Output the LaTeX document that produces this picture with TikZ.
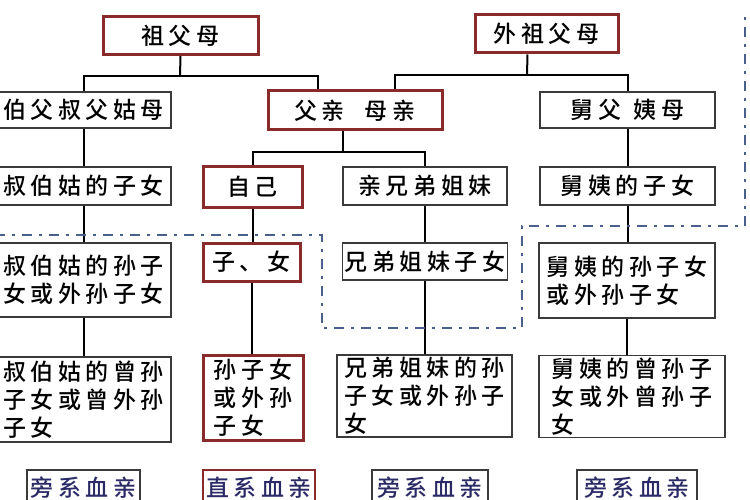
\documentclass[tikz,border=0pt]{standalone}
\usepackage{fontspec}
\newfontfamily\kinfont{Noto Sans CJK SC}[UprightFont=* Medium,LetterSpace=20]
\usepackage{tikz}
\usetikzlibrary{calc, positioning}
\definecolor{lineal}{HTML}{8B2A2A}
\definecolor{bordergray}{HTML}{3A3A3A}
\definecolor{tagblue}{HTML}{2A2A66}
\definecolor{dashblue}{HTML}{4B5F8C}

\begin{document}
\begin{tikzpicture}[x=1pt,y=-1pt,
	kinbox/.style={draw=bordergray,line width=1.5pt,fill=white,align=left,inner sep=2pt,
		font=\kinfont\fontsize{23}{28}\selectfont},
	direct/.style={kinbox,draw=lineal,line width=3pt},
	tagbox/.style={kinbox,text=tagblue,line width=1.2pt},
	link/.style={line width=2pt,black},
	blood/.style={line width=2pt,dashblue,dash pattern=on 10pt off 7pt on 3pt off 7pt}]
	\useasboundingbox[fill=white] (0,0) rectangle (750,500);
	
	% grandparents
	\node[direct,minimum width=155pt,minimum height=38pt] (gp)  at (180.5,35.5) {祖父母};
	\node[direct,minimum width=143pt,minimum height=38pt] (mgp) at (546.5,34)   {外祖父母};
	
	% parents' generation
	\node[kinbox,minimum width=175pt,minimum height=36pt] (uncle)   at (83.5,110)  {伯父叔父姑母};
	\node[direct,minimum width=174pt,minimum height=39pt] (parents) at (355,110.5) {父亲\hspace{20pt}母亲};
	\node[kinbox,minimum width=175pt,minimum height=36pt] (muncle)  at (627.5,110)  {舅父\hspace{12pt}姨母};
	
	% own generation
	\node[kinbox,minimum width=175pt,minimum height=38pt] (ukids) at (83.5,186)  {叔伯姑的子女};
	\node[direct,minimum width=99pt, minimum height=40pt] (self)  at (252.5,187) {自己};
	\node[kinbox,minimum width=164pt,minimum height=38pt] (sibs)  at (425,186)   {亲兄弟姐妹};
	\node[kinbox,minimum width=175pt,minimum height=38pt] (mkids) at (627.5,186) {舅姨的子女};
	
	% children
	\node[kinbox,minimum width=175pt,minimum height=74pt] (ugk)     at (83.5,280)  {叔伯姑的孙子\\女或外孙子女};
	\node[direct,minimum width=97pt, minimum height=38pt] (kids)    at (251.5,262) {子、女};
	\node[kinbox,minimum width=164pt,minimum height=37pt] (sibkids) at (425,261.5) {兄弟姐妹子女};
	\node[kinbox,minimum width=176pt,minimum height=75pt] (mgk)     at (627,280.5) {舅姨的孙子女\\或外孙子女};
	
	% grandchildren
	\node[kinbox,minimum width=175pt,minimum height=85pt] (uggk)  at (83.5,399.5) {叔伯姑的曾孙\\子女或曾外孙\\子女};
	\node[direct,minimum width=100pt,minimum height=85pt] (gkids) at (253,397.5) {孙子女\\或外孙\\子女};
	\node[kinbox,minimum width=175pt,minimum height=82pt] (sibgk) at (424.5,396) {兄弟姐妹的孙\\子女或外孙子\\女};
	\node[kinbox,minimum width=186pt,minimum height=81pt] (mggk)  at (632,396.5) {舅姨的曾孙子\\女或外曾孙子\\女};
	
	% kinds of kin
	\node[tagbox,minimum width=113pt,minimum height=36pt] (side1)  at (83.5,488) {旁系血亲};
	\node[tagbox,draw=lineal,line width=2.5pt,minimum width=112pt,minimum height=36pt] (linetag) at (259,488) {直系血亲};
	\node[tagbox,minimum width=116pt,minimum height=36pt] (side2)  at (430,488) {旁系血亲};
	\node[tagbox,minimum width=120pt,minimum height=36pt] (side3)  at (637,488) {旁系血亲};
	
	% forks
	\coordinate (fork1) at (180,76);
	\coordinate (fork2) at (343,152);
	\coordinate (fork3) at (527,75);
	
	\draw[link] (gp.south) -- (fork1);
	\draw[link] (uncle.north) |- (fork1) -| ([xshift=-37pt]parents.north);
	\draw[link] ([xshift=-19pt]mgp.south) -- (fork3);
	\draw[link] ([xshift=40pt]parents.north) |- (fork3) -| (muncle.north);
	\draw[link] ([xshift=-12pt]parents.south) -- (fork2);
	\draw[link] (self.north) |- (fork2) -| (sibs.north);
	
	\draw[link] (uncle.south) -- (ukids.north);
	\draw[link] (ukids.south) -- (ugk.north);
	\draw[link] (ugk.south)   -- (uggk.north);
	\draw[link] (self.south)  -- (self.south |- kids.north);
	\draw[link] (kids.south)  -- (kids.south |- gkids.north);
	\draw[link] (sibs.south)  -- (sibkids.north);
	\draw[link] (sibkids.south) -- (sibkids.south |- sibgk.north);
	\draw[link] (muncle.south) -- (mkids.north);
	\draw[link] (mkids.south) -- (mkids.south |- mgk.north);
	\draw[link] (mgk.south)   -- (mgk.south |- mggk.north);
	
	% line round the near kin
	\draw[blood] (-5,235) -| (322,328) -| (522,226) -| (745,15);
\end{tikzpicture}
\end{document}
